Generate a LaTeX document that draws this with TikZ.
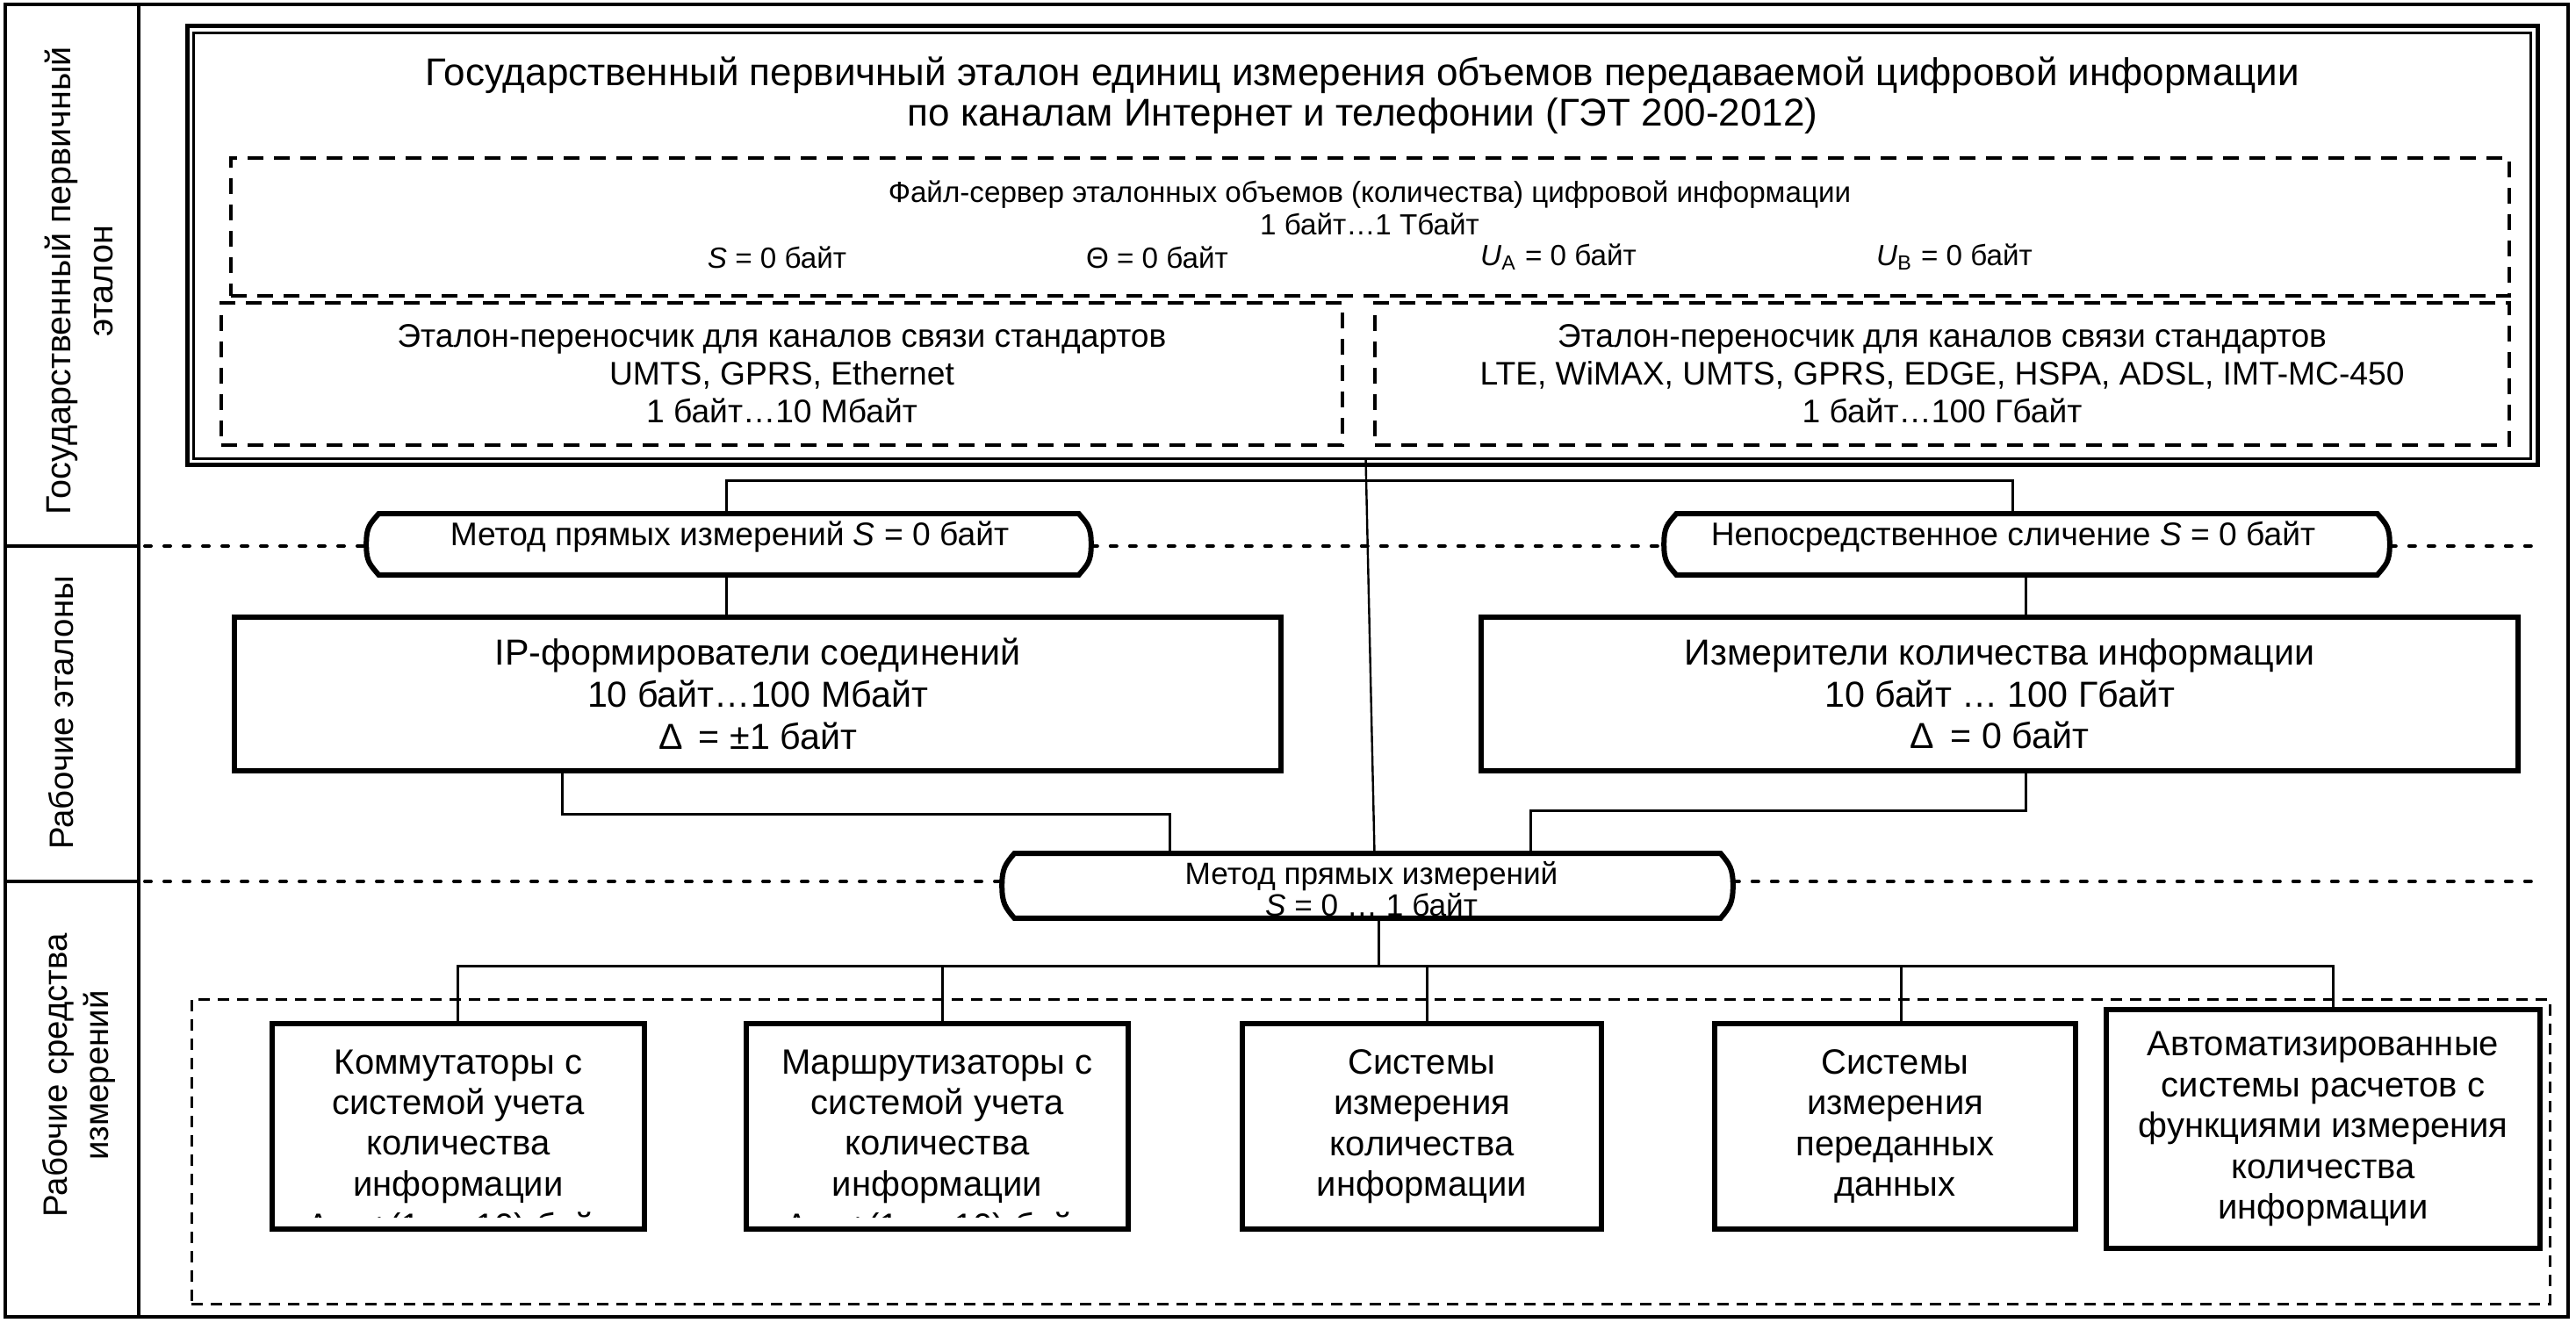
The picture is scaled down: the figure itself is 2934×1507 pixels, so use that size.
\documentclass[tikz,border=0pt]{standalone}
\usepackage{fontspec}
\setmainfont{Liberation Sans}
\usetikzlibrary{calc}
\newcommand\termpath[1]{%
\draw[termline] ([xshift=3.5pt]#1.north west) -- ([xshift=-3.5pt]#1.north east)
 .. controls ([xshift=-1pt,yshift=-3pt]#1.north east) and ([yshift=5pt]#1.east) .. (#1.east)
 .. controls ([yshift=-5pt]#1.east) and ([xshift=-1pt,yshift=3pt]#1.south east) .. ([xshift=-3.5pt]#1.south east)
 -- ([xshift=3.5pt]#1.south west)
 .. controls ([xshift=1pt,yshift=3pt]#1.south west) and ([yshift=-5pt]#1.west) .. (#1.west)
 .. controls ([yshift=5pt]#1.west) and ([xshift=1pt,yshift=-3pt]#1.north west) .. ([xshift=3.5pt]#1.north west) -- cycle;}
\begin{document}
\begin{tikzpicture}[x=0.25pt,y=-0.25pt,
  sz/.style 2 args={minimum width=#1*0.25pt,minimum height=#2*0.25pt},
  conn/.style={line width=0.75pt},
  slant/.style={line width=0.6pt},
  framel/.style={line width=1pt},
  thickbox/.style={draw,line width=1.6pt,inner sep=0pt,align=center},
  dbox/.style={draw,line width=0.9pt,dash pattern=on 4.5pt off 3pt,inner sep=0pt,align=center},
  gdash/.style={draw,line width=0.75pt,dash pattern=on 3.25pt off 2.25pt,inner sep=0pt},
  dotline/.style={line width=1pt,dash pattern=on 1.75pt off 3.75pt,line cap=round},
  term/.style={inner sep=0pt},
  termline/.style={line width=1.5pt},
  txt/.style={inner sep=0pt,align=center},
  ftitle/.style={font=\fontsize{11}{11.6}\selectfont},
  ffs/.style={font=\fontsize{8.3}{9.25}\selectfont},
  fbc/.style={font=\fontsize{9.3}{10.75}\selectfont},
  fbig/.style={font=\fontsize{10.3}{11.9}\selectfont},
  fbot/.style={font=\fontsize{10}{11.6}\selectfont},
  fterm/.style={font=\fontsize{9.3}{10}\selectfont},
  fm3/.style={font=\fontsize{8.8}{9}\selectfont},
  flab/.style={font=\fontsize{9.6}{11.8}\selectfont},
]
\useasboundingbox (0,0) rectangle (2934,1507);
% outer frame and left column
\draw[framel] (6,5) rectangle (2925,1500);
\draw[framel] (158,5) -- (158,1500);
\draw[framel] (6,622) -- (158,622);
\draw[framel] (6,1004) -- (158,1004);
\node[txt,flab,rotate=90,font=\fontsize{9.9}{11.8}\selectfont] (lab1) at (90,320) {Государственный первичный\\эталон};
\node[txt,flab,rotate=90] (lab2) at (70,812) {Рабочие эталоны};
\node[txt,flab,rotate=90] (lab3) at (90,1225) {Рабочие средства\\измерений};

% double box
\node[draw,line width=1.25pt,inner sep=0pt,sz={2677}{500}] (dbl) at (1551.5,280) {};
\draw[line width=0.75pt] ([xshift=2.5pt,yshift=-2.5pt]dbl.north west) rectangle ([xshift=-2.5pt,yshift=2.5pt]dbl.south east);
\node[txt,ftitle] (title) at (1552,109) {Государственный первичный эталон единиц измерения объемов передаваемой цифровой информации\\по каналам Интернет и телефонии (ГЭТ 200-2012)};

% file server
\node[dbox,sz={2595}{157}] (fs) at (1560.5,258.5) {};
\node[txt,ffs] (fst) at (1560,237) {Файл-сервер эталонных объемов (количества) цифровой информации\\1 байт…1 Тбайт};
\node[txt,ffs] (fs1) at (885,293) {\textit{S} = 0 байт};
\node[txt,ffs] (fs2) at (1318,293) {Θ = 0 байт};
\node[txt,ffs] (fs3) at (1775,293) {\textit{U}\textsubscript{A} = 0 байт};
\node[txt,ffs] (fs4) at (2226,293) {\textit{U}\textsubscript{B} = 0 байт};

% transfer standards
\node[dbox,fbc,sz={1277}{162}] (trB) at (890.5,426) {Эталон-переносчик для каналов связи стандартов\\UMTS, GPRS, Ethernet\\1 байт…10 Мбайт};
\node[dbox,fbc,sz={1292}{162}] (trC) at (2212,426) {Эталон-переносчик для каналов связи стандартов\\LTE, WiMAX, UMTS, GPRS, EDGE, HSPA, ADSL, IMT-MC-450\\1 байт…100 Гбайт};

% method boxes
\node[term,sz={824}{68}] (m1) at (830,620) {};
\termpath{m1}
\node[txt,fterm] (m1t) at (831,612) {Метод прямых измерений \textit{S} = 0 байт};
\node[term,sz={825}{68}] (m2) at (2308.5,620) {};
\termpath{m2}
\node[txt,fterm] (m2t) at (2293,612) {Непосредственное сличение \textit{S} = 0 байт};

% working standards
\node[thickbox,fbig,sz={1192}{175}] (ip) at (863,790.5) {IP-формирователи соединений\\10 байт…100 Мбайт\\Δ\, = ±1 байт};
\node[thickbox,fbig,sz={1181}{175}] (iz) at (2277.5,790.5) {Измерители количества информации\\10 байт … 100 Гбайт\\Δ\, = 0 байт};

% method 3
\node[term,sz={831}{72}] (m3) at (1557.5,1009) {};
\termpath{m3}
\node[txt,fm3] (m3t) at (1562,1013) {Метод прямых измерений\\\textit{S} = 0 … 1 байт};

% dotted level lines
\coordinate (dl1) at (165,622);
\coordinate (dr1) at (2896,622);
\coordinate (dl2) at (165,1004);
\coordinate (dr2) at (2896,1004);
\draw[dotline] (dl1) -- (dl1 -| m1.west);
\draw[dotline] (dl1 -| m1.east) -- (dl1 -| m2.west);
\draw[dotline] (dl1 -| m2.east) -- (dr1);
\draw[dotline] (dl2) -- (dl2 -| m3.west);
\draw[dotline] (dl2 -| m3.east) -- (dr2);

% connectors upper
\coordinate (tL) at (827,548);
\coordinate (tR) at (2292,548);
\coordinate (cR) at (2307,700);
\draw[conn] (m1.north -| tL) -- (tL) -- (tR) -- (m2.north -| tR);
\draw[conn] (m1.south -| tL) -- (ip.north -| tL);
\draw[conn] (m2.south -| cR) -- (iz.north -| cR);
\draw[slant] ([xshift=1pt,yshift=2.5pt]dbl.south) -- ([xshift=2pt]m3.north);
\coordinate (jL1) at (640,927);
\coordinate (jL2) at (1332,927);
\coordinate (jR1) at (2307,923);
\coordinate (jR2) at (1743,923);
\draw[conn] (ip.south -| jL1) -- (jL1) -- (jL2) -- (m3.north -| jL2);
\draw[conn] (iz.south -| jR1) -- (jR1) -- (jR2) -- (m3.north -| jR2);

% bottom group
\node[gdash,sz={2686}{347}] (grp) at (1561,1311.5) {};
\node[thickbox,fbot,sz={424}{234}] (K) at (522,1283) {Коммутаторы с\\системой учета\\количества\\информации};
\node[thickbox,fbot,sz={435}{234}] (M) at (1067.5,1283) {Маршрутизаторы с\\системой учета\\количества\\информации};
\node[thickbox,fbot,sz={409}{234}] (SI) at (1619.5,1283) {Системы\\измерения\\количества\\информации};
\node[thickbox,fbot,sz={411}{234}] (SP) at (2158.5,1283) {Системы\\измерения\\переданных\\данных};
\node[thickbox,fbot,sz={494}{272}] (A) at (2646,1286) {Автоматизированные\\системы расчетов с\\функциями измерения\\количества\\информации};
\begin{scope}
\clip (315,1350) rectangle (1280,1386);
\node[inner sep=0pt,fbot,anchor=base] (kf) at (522,1410) {Δ = ±(1 … 10) байт};
\node[inner sep=0pt,fbot,anchor=base] (mf) at (1067,1410) {Δ = ±(1 … 10) байт};
\end{scope}

% bus
\coordinate (bus) at (1570,1100);
\coordinate (bL) at (521,1100);
\coordinate (bR) at (2657,1100);
\coordinate (d2) at (1073,1100);
\coordinate (d3) at (1625,1100);
\coordinate (d4) at (2165,1100);
\draw[conn] (m3.south -| bus) -- (bus);
\draw[conn] (K.north -| bL) -- (bL) -- (bR) -- (A.north -| bR);
\draw[conn] (d2) -- (M.north -| d2);
\draw[conn] (d3) -- (SI.north -| d3);
\draw[conn] (d4) -- (SP.north -| d4);
\end{tikzpicture}
\end{document}
